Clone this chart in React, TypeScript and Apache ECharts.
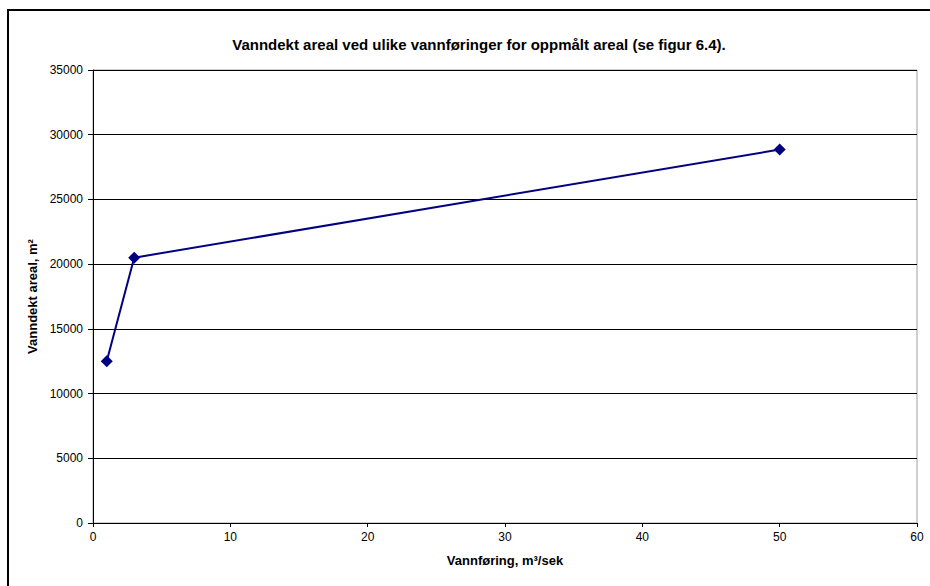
import React, { useEffect, useRef } from "react";
import * as echarts from "echarts";

const titleText = "Vanndekt areal ved ulike vannføringer for oppmålt areal (se figur 6.4).";
const xName = "Vannføring, m³/sek";
const yName = "Vanndekt areal, m²";
const flowValues = [1, 3, 50];
const areaValues = [12500, 20500, 28850];

export default function App() {
  const ref = useRef<HTMLDivElement>(null);
  useEffect(() => {
    if (!ref.current) return;
    const chart = echarts.init(ref.current, null, { renderer: "svg" });
    const font = "Liberation Sans, Arial, sans-serif";
    chart.setOption({
      animation: false,
      backgroundColor: "#ffffff",
      textStyle: { fontFamily: font },
      title: {
        text: titleText,
        left: 474,
        top: 32,
        textAlign: "center",
        textStyle: { fontSize: 15, fontWeight: "bold", color: "#000", fontFamily: font },
      },
      graphic: [
        {
          type: "rect",
          shape: { x: 8, y: 10, width: 1000, height: 700 },
          style: { fill: "none", stroke: "#000", lineWidth: 2 },
          silent: true,
        },
      ],
      grid: { left: 93, right: 13, top: 70, bottom: 63, show: true, borderColor: "#a0a0a0", borderWidth: 1, backgroundColor: "transparent" },
      xAxis: {
        type: "value",
        min: 0,
        max: 60,
        interval: 10,
        name: xName,
        nameLocation: "middle",
        nameGap: 31,
        nameTextStyle: { fontSize: 13, fontWeight: "bold", color: "#000", fontFamily: font },
        axisLine: { show: true, onZero: false, lineStyle: { color: "#000", width: 1 } },
        axisTick: { show: true, length: 4, lineStyle: { color: "#000" } },
        axisLabel: { fontSize: 12, color: "#000", margin: 8, fontFamily: font },
        splitLine: { show: false },
      },
      yAxis: {
        type: "value",
        min: 0,
        max: 35000,
        interval: 5000,
        name: yName,
        nameLocation: "middle",
        nameGap: 50,
        nameRotate: 90,
        nameTextStyle: { fontSize: 13, fontWeight: "bold", color: "#000", fontFamily: font },
        axisLine: { show: true, lineStyle: { color: "#000", width: 1 } },
        axisTick: { show: true, length: 5, lineStyle: { color: "#000" } },
        axisLabel: { fontSize: 12, color: "#000", margin: 10, fontFamily: font, formatter: (v: number) => String(v) },
        splitLine: { show: true, lineStyle: { color: "#000", width: 1 } },
      },
      series: [
        {
          type: "line",
          data: flowValues.map((x, i) => [x, areaValues[i]]),
          symbol: "diamond",
          symbolSize: 12,
          lineStyle: { color: "#000080", width: 2 },
          itemStyle: { color: "#000080" },
        },
      ],
    });
    return () => chart.dispose();
  }, []);
  return <div ref={ref} style={{ position: "fixed", left: 0, top: 0, width: 930, height: 586 }} />;
}
